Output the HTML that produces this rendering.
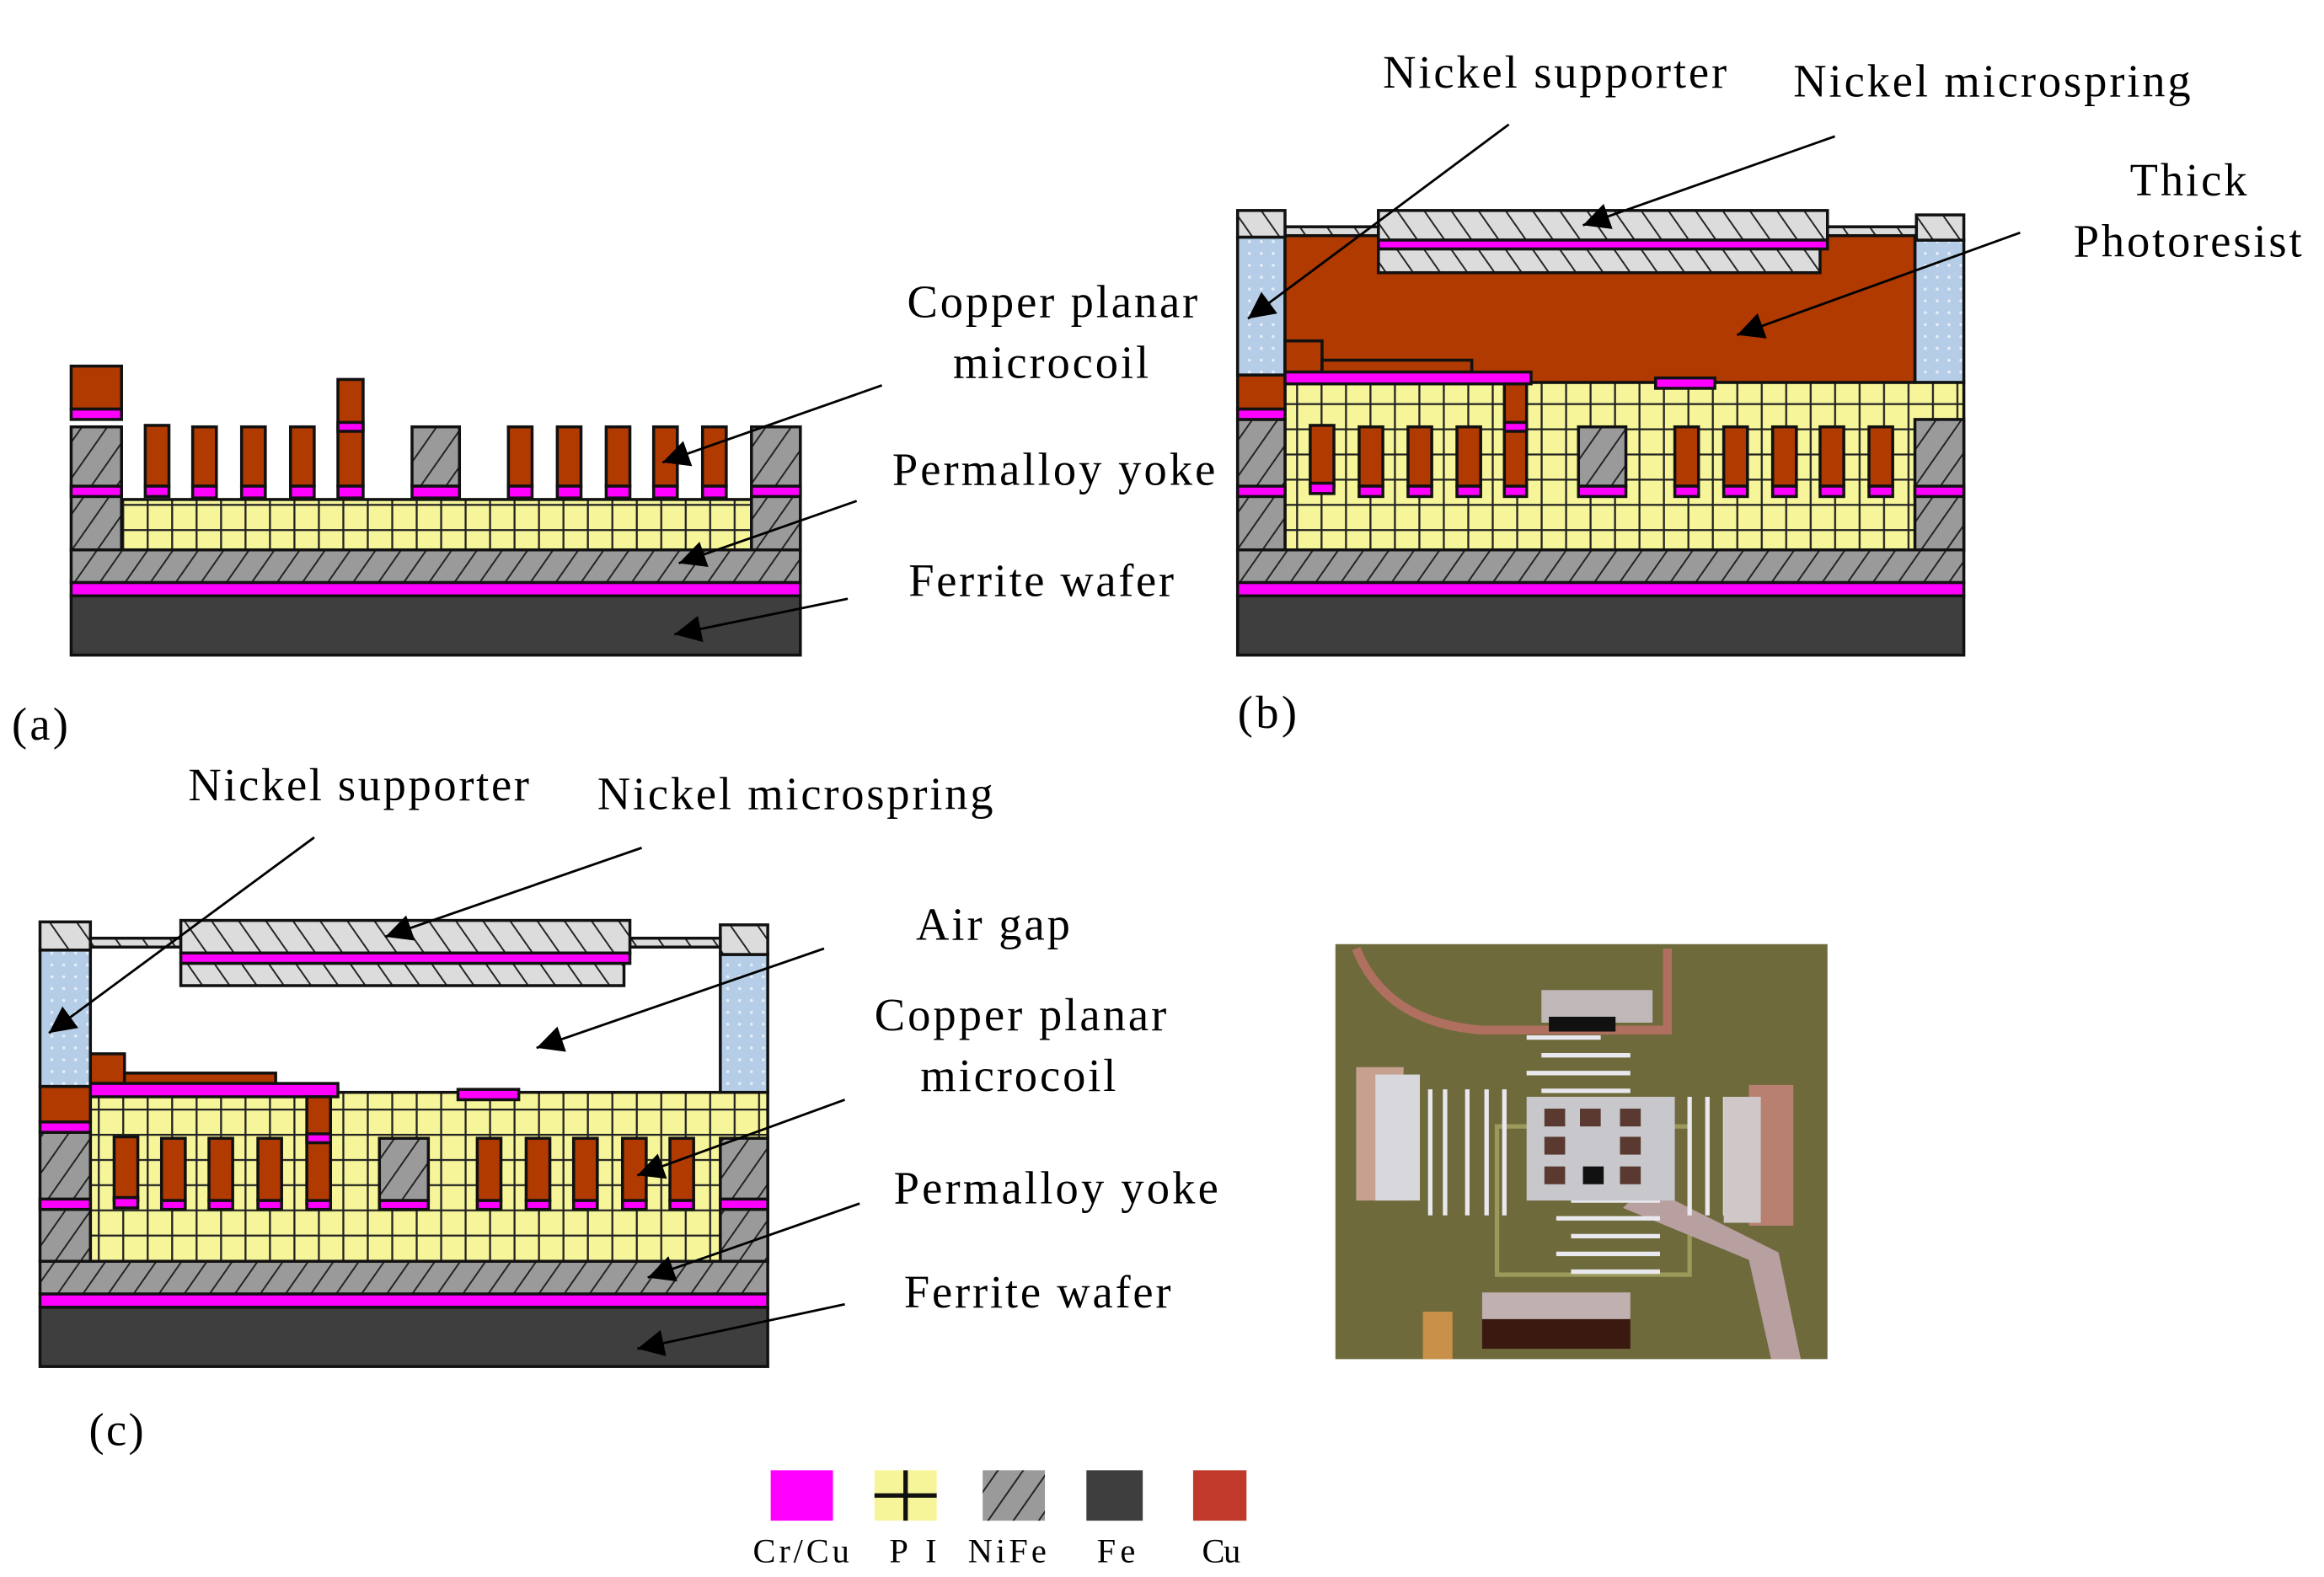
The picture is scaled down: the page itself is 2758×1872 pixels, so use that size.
<!DOCTYPE html>
<html><head><meta charset="utf-8"><style>
html,body{margin:0;padding:0;background:#fff;}
svg{display:block;}
text{font-family:"Liberation Serif",serif;fill:#000;}
</style></head><body>
<svg width="2758" height="1872" viewBox="0 0 1568 1064" preserveAspectRatio="none" xmlns="http://www.w3.org/2000/svg">
<defs>
<pattern id="nife" patternUnits="userSpaceOnUse" width="14" height="14" patternTransform="rotate(35)">
<rect width="14" height="14" fill="#9a9a9a"/><line x1="0" y1="0" x2="0" y2="14" stroke="#222" stroke-width="2.2"/></pattern>
<pattern id="ni" patternUnits="userSpaceOnUse" width="15" height="15" patternTransform="rotate(-35)">
<rect width="15" height="15" fill="#dcdcdc"/><line x1="0" y1="0" x2="0" y2="15" stroke="#222" stroke-width="2.2"/></pattern>
<pattern id="pi" patternUnits="userSpaceOnUse" width="16.5" height="17">
<rect width="16.5" height="17" fill="#f6f59a"/><line x1="0" y1="0" x2="0" y2="17" stroke="#222" stroke-width="2.6"/><line x1="0" y1="0" x2="16.5" y2="0" stroke="#222" stroke-width="2.6"/></pattern>
<pattern id="blue" patternUnits="userSpaceOnUse" width="8" height="8">
<rect width="8" height="8" fill="#b5cde6"/><circle cx="3" cy="3" r="1" fill="#e6f0fa"/></pattern>
<marker id="a2" viewBox="0 0 10 10" refX="10" refY="5" markerWidth="24" markerHeight="18" markerUnits="userSpaceOnUse" orient="auto"><path d="M0,0 L10,5 L0,10 z" fill="#000"/></marker>
</defs>
<g stroke="#111" stroke-width="2">
<!-- ===== Panel (a) ===== -->
<rect x="48" y="402" width="492" height="40" fill="#3e3e3e"/>
<rect x="48" y="393" width="492" height="9" fill="#ff00ff"/>
<rect x="48" y="371" width="492" height="22" fill="url(#nife)"/>
<rect x="82" y="337" width="425" height="34" fill="url(#pi)"/>
<rect x="48" y="288" width="34" height="83" fill="url(#nife)"/>
<rect x="507" y="288" width="33" height="83" fill="url(#nife)"/>
<rect x="48" y="328" width="34" height="7" fill="#ff00ff"/>
<rect x="507" y="328" width="33" height="7" fill="#ff00ff"/>
<rect x="48" y="247" width="34" height="29" fill="#b03a00"/>
<rect x="48" y="276" width="34" height="7" fill="#ff00ff"/>
<rect x="278" y="288" width="32" height="40" fill="url(#nife)"/>
<rect x="278" y="328" width="32" height="8" fill="#ff00ff"/>
<rect x="228" y="256" width="17" height="72" fill="#b03a00"/>
<rect x="228" y="285" width="17" height="6" fill="#ff00ff"/>
<rect x="228" y="328" width="17" height="8" fill="#ff00ff"/>
<g>
<rect x="98" y="287" width="16" height="41" fill="#b03a00"/><rect x="98" y="328" width="16" height="7" fill="#ff00ff"/>
<rect x="130" y="288" width="16" height="40" fill="#b03a00"/><rect x="130" y="328" width="16" height="8" fill="#ff00ff"/>
<rect x="163" y="288" width="16" height="40" fill="#b03a00"/><rect x="163" y="328" width="16" height="8" fill="#ff00ff"/>
<rect x="196" y="288" width="16" height="40" fill="#b03a00"/><rect x="196" y="328" width="16" height="8" fill="#ff00ff"/>
<rect x="343" y="288" width="16" height="40" fill="#b03a00"/><rect x="343" y="328" width="16" height="8" fill="#ff00ff"/>
<rect x="376" y="288" width="16" height="40" fill="#b03a00"/><rect x="376" y="328" width="16" height="8" fill="#ff00ff"/>
<rect x="409" y="288" width="16" height="40" fill="#b03a00"/><rect x="409" y="328" width="16" height="8" fill="#ff00ff"/>
<rect x="441" y="288" width="16" height="40" fill="#b03a00"/><rect x="441" y="328" width="16" height="8" fill="#ff00ff"/>
<rect x="474" y="288" width="16" height="40" fill="#b03a00"/><rect x="474" y="328" width="16" height="8" fill="#ff00ff"/>
</g>

<!-- ===== Panel (b) ===== -->
<rect x="835" y="402" width="490" height="40" fill="#3e3e3e"/>
<rect x="835" y="393" width="490" height="9" fill="#ff00ff"/>
<rect x="835" y="371" width="490" height="22" fill="url(#nife)"/>
<rect x="867" y="258" width="458" height="113" fill="url(#pi)"/>
<rect x="835" y="283" width="32" height="88" fill="url(#nife)"/>
<rect x="1292" y="283" width="33" height="88" fill="url(#nife)"/>
<rect x="835" y="328" width="32" height="7" fill="#ff00ff"/>
<rect x="1292" y="328" width="33" height="7" fill="#ff00ff"/>
<rect x="835" y="253" width="32" height="23" fill="#b03a00"/>
<rect x="835" y="276" width="32" height="7" fill="#ff00ff"/>
<rect x="835" y="160" width="32" height="93" fill="url(#blue)"/>
<rect x="1292" y="162" width="33" height="96" fill="url(#blue)"/>
<rect x="867" y="158" width="425" height="100" fill="#b03a00"/>
<rect x="867" y="153" width="63" height="6" fill="url(#ni)"/>
<rect x="1233" y="153" width="60" height="6" fill="url(#ni)"/>
<rect x="835" y="142" width="32" height="18" fill="url(#ni)"/>
<rect x="1293" y="145" width="32" height="17" fill="url(#ni)"/>
<rect x="930" y="142" width="303" height="20" fill="url(#ni)"/>
<rect x="930" y="162" width="303" height="6" fill="#ff00ff"/>
<rect x="930" y="168" width="298" height="16" fill="url(#ni)"/>
<rect x="867" y="230" width="25" height="21" fill="#b03a00"/>
<rect x="892" y="243" width="101" height="8" fill="#b03a00"/>
<rect x="867" y="251" width="166" height="8" fill="#ff00ff"/>
<rect x="1015" y="259" width="15" height="74" fill="#b03a00"/>
<rect x="1015" y="285" width="15" height="6" fill="#ff00ff"/>
<rect x="1015" y="328" width="15" height="7" fill="#ff00ff"/>
<rect x="1117" y="255" width="40" height="7" fill="#ff00ff"/>
<rect x="1065" y="288" width="32" height="40" fill="url(#nife)"/>
<rect x="1065" y="328" width="32" height="7" fill="#ff00ff"/>
<g>
<rect x="884" y="287" width="16" height="41" fill="#b03a00"/><rect x="884" y="326" width="16" height="7" fill="#ff00ff"/>
<rect x="917" y="288" width="16" height="40" fill="#b03a00"/><rect x="917" y="328" width="16" height="7" fill="#ff00ff"/>
<rect x="950" y="288" width="16" height="40" fill="#b03a00"/><rect x="950" y="328" width="16" height="7" fill="#ff00ff"/>
<rect x="983" y="288" width="16" height="40" fill="#b03a00"/><rect x="983" y="328" width="16" height="7" fill="#ff00ff"/>
<rect x="1130" y="288" width="16" height="40" fill="#b03a00"/><rect x="1130" y="328" width="16" height="7" fill="#ff00ff"/>
<rect x="1163" y="288" width="16" height="40" fill="#b03a00"/><rect x="1163" y="328" width="16" height="7" fill="#ff00ff"/>
<rect x="1196" y="288" width="16" height="40" fill="#b03a00"/><rect x="1196" y="328" width="16" height="7" fill="#ff00ff"/>
<rect x="1228" y="288" width="16" height="40" fill="#b03a00"/><rect x="1228" y="328" width="16" height="7" fill="#ff00ff"/>
<rect x="1261" y="288" width="16" height="40" fill="#b03a00"/><rect x="1261" y="328" width="16" height="7" fill="#ff00ff"/>
</g>

<!-- ===== Panel (c) ===== -->
<rect x="27" y="882" width="491" height="40" fill="#3e3e3e"/>
<rect x="27" y="873" width="491" height="9" fill="#ff00ff"/>
<rect x="27" y="851" width="491" height="22" fill="url(#nife)"/>
<rect x="61" y="737" width="457" height="114" fill="url(#pi)"/>
<rect x="27" y="764" width="34" height="87" fill="url(#nife)"/>
<rect x="486" y="768" width="32" height="83" fill="url(#nife)"/>
<rect x="27" y="809" width="34" height="7" fill="#ff00ff"/>
<rect x="486" y="809" width="32" height="7" fill="#ff00ff"/>
<rect x="27" y="733" width="34" height="24" fill="#b03a00"/>
<rect x="27" y="757" width="34" height="7" fill="#ff00ff"/>
<rect x="27" y="641" width="34" height="92" fill="url(#blue)"/>
<rect x="486" y="644" width="32" height="93" fill="url(#blue)"/>
<rect x="27" y="622" width="34" height="19" fill="url(#ni)"/>
<rect x="486" y="624" width="32" height="20" fill="url(#ni)"/>
<rect x="61" y="633" width="61" height="6" fill="url(#ni)"/>
<rect x="425" y="633" width="61" height="6" fill="url(#ni)"/>
<rect x="122" y="621" width="303" height="22" fill="url(#ni)"/>
<rect x="122" y="643" width="303" height="7" fill="#ff00ff"/>
<rect x="122" y="650" width="299" height="15" fill="url(#ni)"/>
<rect x="61" y="711" width="23" height="20" fill="#b03a00"/>
<rect x="84" y="724" width="102" height="7" fill="#b03a00"/>
<rect x="61" y="731" width="167" height="9" fill="#ff00ff"/>
<rect x="207" y="740" width="16" height="72" fill="#b03a00"/>
<rect x="207" y="765" width="16" height="6" fill="#ff00ff"/>
<rect x="207" y="810" width="16" height="6" fill="#ff00ff"/>
<rect x="309" y="735" width="41" height="7" fill="#ff00ff"/>
<rect x="256" y="768" width="33" height="42" fill="url(#nife)"/>
<rect x="256" y="810" width="33" height="6" fill="#ff00ff"/>
<g>
<rect x="77" y="767" width="16" height="43" fill="#b03a00"/><rect x="77" y="808" width="16" height="7" fill="#ff00ff"/>
<rect x="109" y="768" width="16" height="42" fill="#b03a00"/><rect x="109" y="810" width="16" height="6" fill="#ff00ff"/>
<rect x="141" y="768" width="16" height="42" fill="#b03a00"/><rect x="141" y="810" width="16" height="6" fill="#ff00ff"/>
<rect x="174" y="768" width="16" height="42" fill="#b03a00"/><rect x="174" y="810" width="16" height="6" fill="#ff00ff"/>
<rect x="322" y="768" width="16" height="42" fill="#b03a00"/><rect x="322" y="810" width="16" height="6" fill="#ff00ff"/>
<rect x="355" y="768" width="16" height="42" fill="#b03a00"/><rect x="355" y="810" width="16" height="6" fill="#ff00ff"/>
<rect x="387" y="768" width="16" height="42" fill="#b03a00"/><rect x="387" y="810" width="16" height="6" fill="#ff00ff"/>
<rect x="420" y="768" width="16" height="42" fill="#b03a00"/><rect x="420" y="810" width="16" height="6" fill="#ff00ff"/>
<rect x="452" y="768" width="16" height="42" fill="#b03a00"/><rect x="452" y="810" width="16" height="6" fill="#ff00ff"/>
</g>

<!-- Legend -->
<rect x="520" y="992" width="42" height="34" fill="#ff00ff" stroke="none"/>
<rect x="590" y="992" width="42" height="34" fill="#f6f59a" stroke="none"/>
<line x1="611" y1="992" x2="611" y2="1026" stroke-width="3"/><line x1="590" y1="1009" x2="632" y2="1009" stroke-width="3"/>
<rect x="663" y="992" width="42" height="34" fill="url(#nife)" stroke="none"/>
<rect x="733" y="992" width="38" height="34" fill="#3e3e3e" stroke="none"/>
<rect x="805" y="992" width="36" height="34" fill="#c0392b" stroke="none"/>
</g>

<!-- Arrows -->
<g stroke="#000" stroke-width="1.6" fill="none" marker-end="url(#a2)">
<line x1="595" y1="260" x2="447" y2="312"/>
<line x1="578" y1="338" x2="458" y2="380"/>
<line x1="572" y1="404" x2="455" y2="428"/>
<line x1="1018" y1="84" x2="842" y2="215"/>
<line x1="1238" y1="92" x2="1068" y2="152"/>
<line x1="1363" y1="157" x2="1172" y2="226"/>
<line x1="212" y1="565" x2="33" y2="697"/>
<line x1="433" y1="572" x2="260" y2="632"/>
<line x1="556" y1="640" x2="362" y2="707"/>
<line x1="570" y1="742" x2="430" y2="793"/>
<line x1="580" y1="812" x2="437" y2="862"/>
<line x1="570" y1="880" x2="430" y2="910"/>
</g>

<!-- Photo -->
<g>
<rect x="901" y="637" width="332" height="280" fill="#6e6a3c"/>
<path d="M915,640 Q935,690 1000,695 L1125,695 L1125,640" fill="none" stroke="#b07060" stroke-width="6"/>
<rect x="960" y="885" width="20" height="32" fill="#c89048"/>
<rect x="1010" y="760" width="130" height="100" fill="none" stroke="#9a9a5a" stroke-width="3"/>
<rect x="915" y="720" width="32" height="90" fill="#c8a090"/>
<rect x="1180" y="732" width="30" height="95" fill="#b88070"/>
<rect x="1000" y="888" width="100" height="22" fill="#3a1a10"/>
<rect x="1000" y="872" width="100" height="18" fill="#c0b0b0"/>
<rect x="1040" y="668" width="75" height="22" fill="#c0b8b8"/>
<rect x="1045" y="686" width="45" height="10" fill="#111"/>
<path d="M1095,815 L1180,850 L1195,917 L1215,917 L1200,845 L1110,800 z" fill="#b8a0a0"/>
<g fill="none" stroke="#e8e8ee" stroke-width="3">
<path d="M1030,700 h50 M1040,712 h60 M1030,724 h70 M1040,736 h60"/>
<path d="M1060,810 h60 M1050,822 h70 M1060,834 h60 M1050,846 h70 M1060,858 h60"/>
<path d="M965,735 v85 M975,735 v85 M990,735 v85 M1003,735 v85 M1015,735 v85"/>
<path d="M1140,740 v80 M1152,740 v80 M1164,740 v80 M1176,740 v80"/>
</g>
<rect x="1030" y="740" width="100" height="70" fill="#c8c8cc"/>
<g fill="#5a3a30"><rect x="1042" y="748" width="14" height="12"/><rect x="1066" y="748" width="14" height="12"/><rect x="1093" y="748" width="14" height="12"/><rect x="1042" y="767" width="14" height="12"/><rect x="1093" y="767" width="14" height="12"/><rect x="1042" y="787" width="14" height="12"/><rect x="1068" y="787" width="14" height="12" fill="#111"/><rect x="1093" y="787" width="14" height="12"/></g>
<rect x="928" y="725" width="30" height="85" fill="#d8d8dc"/>
<rect x="1163" y="740" width="25" height="85" fill="#d0c8c8"/>
</g>

<!-- Labels -->
<g font-size="31" lengthAdjust="spacing">
<text x="612" y="214" textLength="196">Copper planar</text>
<text x="643" y="255" textLength="132">microcoil</text>
<text x="602" y="327" textLength="218">Permalloy yoke</text>
<text x="613" y="402" textLength="179">Ferrite wafer</text>
<text x="8" y="499" textLength="38">(a)</text>
<text x="933" y="59" textLength="232">Nickel supporter</text>
<text x="1210" y="65" textLength="268">Nickel microspring</text>
<text x="1437" y="132" textLength="79">Thick</text>
<text x="1399" y="173" textLength="154">Photoresist</text>
<text x="835" y="491" textLength="40">(b)</text>
<text x="127" y="540" textLength="230">Nickel supporter</text>
<text x="403" y="546" textLength="267">Nickel microspring</text>
<text x="618" y="634" textLength="104">Air gap</text>
<text x="590" y="695" textLength="197">Copper planar</text>
<text x="621" y="736" textLength="132">microcoil</text>
<text x="603" y="812" textLength="219">Permalloy yoke</text>
<text x="610" y="882" textLength="180">Ferrite wafer</text>
<text x="60" y="975" textLength="37">(c)</text>
</g>
<g font-size="23" lengthAdjust="spacing">
<text x="508" y="1054" textLength="65">Cr/Cu</text>
<text x="600" y="1054" textLength="32">PI</text>
<text x="653" y="1054" textLength="53">NiFe</text>
<text x="740" y="1054" textLength="26">Fe</text>
<text x="811" y="1054" textLength="26">Cu</text>
</g>
</svg>
</body></html>
